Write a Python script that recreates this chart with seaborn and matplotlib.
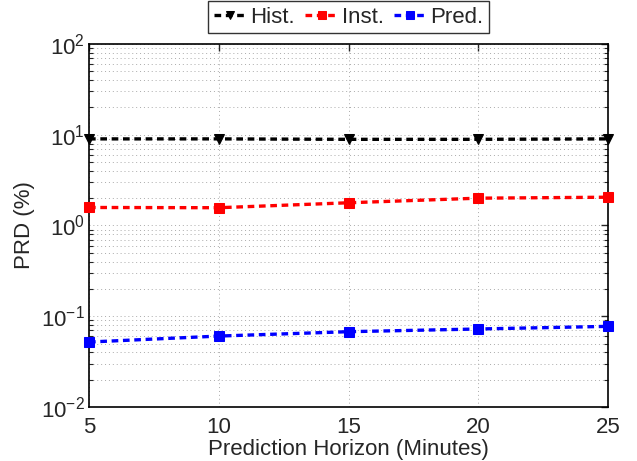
import numpy as np
import pandas as pd
import seaborn as sns
import matplotlib
matplotlib.use("Agg")
import matplotlib.pyplot as plt
from matplotlib.ticker import LogLocator, NullFormatter

# data
horizon = [5, 10, 15, 20, 25]
hist_prd = [9.0, 9.0, 8.9, 8.9, 9.0]
inst_prd = [1.58, 1.57, 1.78, 2.0, 2.05]
pred_prd = [0.052, 0.0605, 0.0676, 0.0724, 0.0774]

series_names = ["Hist.", "Inst.", "Pred."]
series_colors = ["black", "red", "blue"]
series_markers = ["v", "s", "s"]

df = pd.DataFrame({
    "horizon": horizon * 3,
    "prd": hist_prd + inst_prd + pred_prd,
    "method": [n for n in series_names for _ in horizon],
})

sns.set_style("white")
plt.rcParams["font.family"] = ["Liberation Sans", "DejaVu Sans"]
plt.rcParams["mathtext.fontset"] = "custom"
plt.rcParams["mathtext.rm"] = "Liberation Sans"

fig = plt.figure(figsize=(6.37, 4.61), dpi=100)
ax = fig.add_axes([0.1397, 0.1171, 0.815, 0.7875])

for name, col, mk in zip(series_names, series_colors, series_markers):
    sub = df[df["method"] == name]
    sns.lineplot(data=sub, x="horizon", y="prd", ax=ax, color=col,
                 linestyle=(0, (2.0, 1.4)), linewidth=2.4, marker=mk,
                 markersize=7.5 if mk == "v" else 7, markeredgecolor=col,
                 dashes=False, clip_on=False, zorder=5)

ax.set_yscale("log")
ax.set_ylim(1e-2, 1e2)
ax.set_xlim(5, 25)
ax.set_xticks([5, 10, 15, 20, 25])
ax.yaxis.set_major_locator(LogLocator(base=10, numticks=10))
ax.yaxis.set_minor_locator(LogLocator(base=10, subs=np.arange(2, 10), numticks=20))
ax.yaxis.set_minor_formatter(NullFormatter())

ax.grid(True, which="major", linestyle=(0, (1, 3)), color="#aaaaaa", linewidth=0.7)
ax.grid(True, which="minor", axis="y", linestyle=(0, (1, 3)), color="#aaaaaa", linewidth=0.7)

ax.tick_params(axis="x", which="major", direction="in", length=5,
               labelsize=16, top=True, width=1, pad=7)
ax.tick_params(axis="y", which="major", direction="in", length=5,
               labelsize=16, right=True, width=1, pad=3)
ax.tick_params(axis="y", which="minor", direction="in", length=3,
               right=True, left=True, width=0.8)
for sp in ax.spines.values():
    sp.set_color("black")
    sp.set_linewidth(1.2)

ax.set_xlabel("Prediction Horizon (Minutes)", fontsize=16, labelpad=1)
ax.set_ylabel("PRD (%)", fontsize=16, labelpad=4)

leg = ax.legend(ax.lines[:3], series_names, loc="lower center",
                bbox_to_anchor=(0.5, 1.03), ncol=3, numpoints=1,
                fontsize=16, frameon=True, fancybox=False, handlelength=1.5,
                handletextpad=0.15, columnspacing=0.45, borderpad=0.25,
                borderaxespad=0.0)
leg.get_frame().set_edgecolor("black")
leg.get_frame().set_linewidth(1.0)
for h in leg.legend_handles:
    h.set_markersize(5.5)

fig.savefig("out.png", dpi=100)
